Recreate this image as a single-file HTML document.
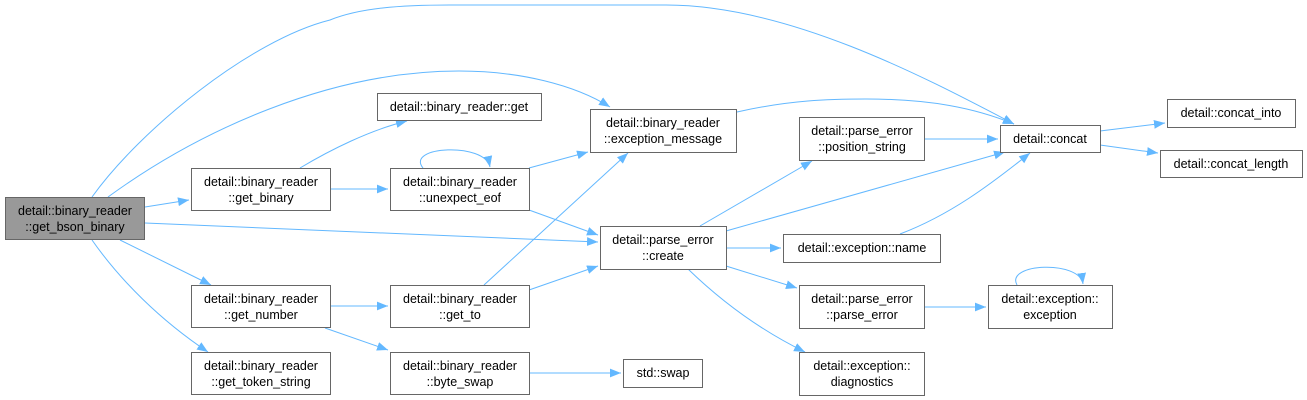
<!DOCTYPE html>
<html><head><meta charset="utf-8"><style>
html,body{margin:0;padding:0;background:#fff;}
svg{display:block;}
text{font-family:"Liberation Sans",Arial,sans-serif;font-size:12.5px;fill:#000;}
</style></head><body>
<svg width="1307" height="400" viewBox="0 0 1307 400" xmlns="http://www.w3.org/2000/svg">
<defs>
<marker id="a" viewBox="0 0 10 10" refX="10" refY="5" markerWidth="11" markerHeight="11" markerUnits="userSpaceOnUse" orient="auto">
<path d="M0,1 L10,5 L0,9 z" fill="#63b8ff"/>
</marker>
</defs>
<g fill="none" stroke="#63b8ff" stroke-width="1" marker-end="url(#a)">
<path d="M92,197 C140,130 250,40 330,20 C360,8 400,5 450,5 L666,5 C790,5 930,80 1014,124"/>
<path d="M108,197 C200,130 330,71 459,71 C520,71 575,85 610,107"/>
<path d="M145,207 L189,200"/>
<path d="M145,223 L598,242"/>
<path d="M120,240 L211,285"/>
<path d="M92,240 C120,280 160,320 208,352"/>
<path d="M300,168 C330,150 370,130 407,121"/>
<path d="M330,189 L388,189"/>
<path d="M423,168 C405,146 485,142 490,167"/>
<path d="M529,168 L588,152"/>
<path d="M529,210 L598,235"/>
<path d="M330,306 L388,306"/>
<path d="M325,328 L388,350"/>
<path d="M484,285 L628,153"/>
<path d="M529,290 L598,266"/>
<path d="M529,373 L621,373"/>
<path d="M737,112 C790,100 830,99 866,99 C930,99 975,108 1014,124"/>
<path d="M700,226 L812,161"/>
<path d="M726,231 L1005,152"/>
<path d="M726,248 L781,248"/>
<path d="M726,266 L797,288"/>
<path d="M688,269 C720,300 760,330 805,352"/>
<path d="M924,139 L998,139"/>
<path d="M900,234 C950,215 990,185 1030,153"/>
<path d="M924,307 L986,307"/>
<path d="M1017,285 C1005,263 1080,260 1083,284"/>
<path d="M1100,131 L1165,123"/>
<path d="M1100,145 L1158,153"/>
</g>
<g stroke="#666" stroke-width="1">
<rect x="5.5" y="197.5" width="139" height="42" fill="#999"/>
<rect x="377.5" y="93.5" width="164" height="27" fill="#fff"/>
<rect x="191.5" y="168.5" width="139" height="42" fill="#fff"/>
<rect x="390.5" y="168.5" width="139" height="42" fill="#fff"/>
<rect x="191.5" y="285.5" width="139" height="42" fill="#fff"/>
<rect x="390.5" y="285.5" width="139" height="42" fill="#fff"/>
<rect x="191.5" y="352.5" width="139" height="42" fill="#fff"/>
<rect x="390.5" y="352.5" width="139" height="42" fill="#fff"/>
<rect x="590.5" y="109.5" width="146" height="43" fill="#fff"/>
<rect x="799.5" y="117.5" width="125" height="43" fill="#fff"/>
<rect x="600.5" y="226.5" width="126" height="43" fill="#fff"/>
<rect x="783.5" y="234.5" width="157" height="28" fill="#fff"/>
<rect x="799.5" y="285.5" width="125" height="43" fill="#fff"/>
<rect x="799.5" y="352.5" width="125" height="43" fill="#fff"/>
<rect x="623.5" y="359.5" width="79" height="28" fill="#fff"/>
<rect x="1000.5" y="125.5" width="100" height="27" fill="#fff"/>
<rect x="1167.5" y="99.5" width="128" height="28" fill="#fff"/>
<rect x="1160.5" y="150.5" width="142" height="27" fill="#fff"/>
<rect x="988.5" y="285.5" width="124" height="43" fill="#fff"/>
</g>
<g text-anchor="middle">
<text x="75" y="215">detail::binary_reader</text><text x="75" y="231">::get_bson_binary</text>
<text x="459" y="111">detail::binary_reader::get</text>
<text x="261" y="186">detail::binary_reader</text><text x="261" y="202">::get_binary</text>
<text x="460" y="186">detail::binary_reader</text><text x="460" y="202">::unexpect_eof</text>
<text x="261" y="303">detail::binary_reader</text><text x="261" y="319">::get_number</text>
<text x="460" y="303">detail::binary_reader</text><text x="460" y="319">::get_to</text>
<text x="261" y="370">detail::binary_reader</text><text x="261" y="386">::get_token_string</text>
<text x="460" y="370">detail::binary_reader</text><text x="460" y="386">::byte_swap</text>
<text x="663" y="127">detail::binary_reader</text><text x="663" y="143">::exception_message</text>
<text x="862" y="135">detail::parse_error</text><text x="862" y="151">::position_string</text>
<text x="663" y="244">detail::parse_error</text><text x="663" y="260">::create</text>
<text x="862" y="252">detail::exception::name</text>
<text x="862" y="303">detail::parse_error</text><text x="862" y="319">::parse_error</text>
<text x="862" y="370">detail::exception::</text><text x="862" y="386">diagnostics</text>
<text x="663" y="377">std::swap</text>
<text x="1050" y="143">detail::concat</text>
<text x="1231" y="117">detail::concat_into</text>
<text x="1231" y="168">detail::concat_length</text>
<text x="1050" y="303">detail::exception::</text><text x="1050" y="319">exception</text>
</g>
</svg>
</body></html>
